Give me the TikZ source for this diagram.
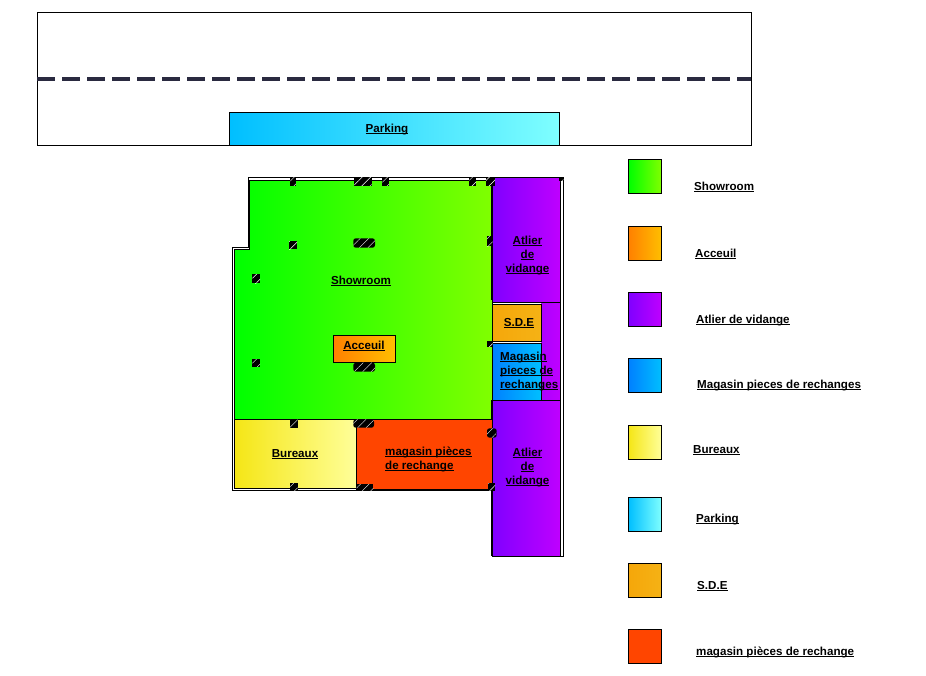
\documentclass[tikz,border=0pt]{standalone}
\usepackage{fontspec}
\setmainfont{Liberation Sans}
\usetikzlibrary{patterns.meta}
\definecolor{trait}{HTML}{2A2A40}
\definecolor{rouille}{HTML}{FF4500}
\newcommand\souligne[1]{\underline{\smash{#1}}}
\tikzset{
  piece/.style={draw=black,line width=0.9pt},
  vert/.style={left color=green,right color={rgb,255:red,128;green,255;blue,0}},
  orange1/.style={left color={rgb,255:red,255;green,128;blue,0},right color={rgb,255:red,255;green,191;blue,0}},
  violet1/.style={left color={rgb,255:red,128;green,0;blue,255},right color={rgb,255:red,191;green,0;blue,255}},
  bleu1/.style={left color={rgb,255:red,0;green,128;blue,255},right color={rgb,255:red,0;green,191;blue,255}},
  jaune1/.style={left color={rgb,255:red,245;green,230;blue,22},right color={rgb,255:red,255;green,255;blue,153}},
  ciel1/.style={left color={rgb,255:red,0;green,191;blue,255},right color={rgb,255:red,127;green,255;blue,255}},
  sde1/.style={left color={rgb,255:red,245;green,167;blue,10},right color={rgb,255:red,245;green,178;blue,21}},
  etiq/.style={font=\bfseries\fontsize{11.6}{14}\selectfont,inner sep=0pt,text=black,yshift=-5pt},
  mur/.style={fill=black,postaction={pattern={Lines[angle=45,distance=6pt,line width=0.4pt]},pattern color=white}},
}
\begin{document}
\begin{tikzpicture}[x=1pt,y=-1pt]
\useasboundingbox (0,0) rectangle (926,675);
% zone du haut
\draw[piece] (37.5,12.5) rectangle (751.5,145.5);
\coordinate (routeg) at (37,78.5);
\coordinate (routed) at (751,78.5);
\draw[trait,line width=4pt,dash pattern=on 18pt off 7pt] (routeg) -- (routed);
\draw[piece,ciel1] (229.5,112.5) rectangle (559.5,145.5);
\node[etiq] (parking) at (387,128) {\souligne{Parking}};
% murs
\draw[piece,fill=white] (248.8,177.2) -- (563.3,177.2) -- (563.3,556.3) -- (492,556.3) -- (492,490.3) -- (232.8,490.3) -- (232.8,247.5) -- (248.8,247.5) -- cycle;
% pieces
\draw[piece,vert] (249.5,180) -- (492,180) -- (492,419.5) -- (234.8,419.5) -- (234.8,249) -- (249.5,249) -- cycle;
\draw[black,line width=1.8pt] (249.5,180) -- (249.5,249);
\draw[piece,violet1] (492,177.2) rectangle (560.5,302);
\draw[piece,violet1] (492,302) rectangle (560.5,400.5);
\draw[piece,violet1] (492,400.5) rectangle (560.5,556.3);
\draw[black,line width=1.8pt] (492,180) -- (492,300);
\draw[black,line width=1.8pt] (492,400) -- (492,556);
\path[fill=white] (492.5,302.5) rectangle (541,343.5);
\draw[piece,sde1] (492,304.5) rectangle (541,341.5);
\draw[piece,bleu1] (492,343.5) rectangle (541,400.5);
\draw[piece,orange1] (333.5,335.5) rectangle (395.5,362.5);
\draw[piece,jaune1] (234.8,419.5) rectangle (356.5,488);
\draw[piece,fill=rouille] (356.5,419.5) rectangle (492,489.8);
% poteaux
\foreach \xa/\ya/\xb/\yb in {290.3/177/296/185.7,354.3/177/371.7/185.7,382.3/177/389/185.7,469.3/177/476/185.7,486/177/495/185.7,559.3/177/563.3/181,289/241/297/249,487/236/492.7/246,252.3/274.3/260/283,252.3/359.3/260/366.7,290/419.3/297.7/427.7,290/483/297.7/490,356.7/484/373.3/490,488.3/483.3/495/490.7,487.3/341/492.7/346.7}
  \path[mur] (\xa,\ya) rectangle (\xb,\yb);
\foreach \xa/\ya/\xb/\yb in {353.3/238.3/375/247.7,353.3/362.7/375/371.7,353.3/419.3/374/427.7,487/428.3/496.7/437.7}
  \path[mur,rounded corners=2.5pt] (\xa,\ya) rectangle (\xb,\yb);
% textes du plan
\node[etiq] (showroom) at (361,280) {\souligne{Showroom}};
\node[etiq] (acceuil) at (364,345) {\souligne{Acceuil}};
\node[etiq,align=center] (atlierh) at (527.5,254) {\souligne{Atlier}\\\souligne{de}\\\souligne{vidange}};
\node[etiq] (sde) at (519,322) {\souligne{S.D.E}};
\node[etiq,align=left,anchor=west] (magasinp) at (500,370) {\souligne{Magasin}\\\souligne{pieces de}\\\souligne{rechanges}};
\node[etiq] (bureaux) at (295,453) {\souligne{Bureaux}};
\node[etiq,align=left,anchor=west] (magasinr) at (385,458) {\souligne{magasin pièces}\\\souligne{de rechange}};
\node[etiq,align=center] (atlierb) at (527.5,466) {\souligne{Atlier}\\\souligne{de}\\\souligne{vidange}};
% legende
\newcommand\legende[6]{
\draw[piece,#1] (628.5,#2) rectangle ++(33,33.5);
\node[etiq,anchor=west] (#3) at (#4,#5) {\souligne{#6}};
}
\legende{vert}{159.5}{lshow}{694}{186}{Showroom}
\legende{orange1}{226.5}{lacc}{695}{253}{Acceuil}
\legende{violet1}{292.5}{latl}{696}{319}{Atlier de vidange}
\legende{bleu1}{358.5}{lmag}{697}{384}{Magasin pieces de rechanges}
\legende{jaune1}{425.5}{lbur}{693}{449}{Bureaux}
\legende{ciel1}{497.5}{lpar}{696}{518}{Parking}
\legende{sde1}{563.5}{lsde}{697}{585}{S.D.E}
\legende{fill=rouille}{629.5}{lrec}{696}{651}{magasin pièces de rechange}
\end{tikzpicture}
\end{document}
